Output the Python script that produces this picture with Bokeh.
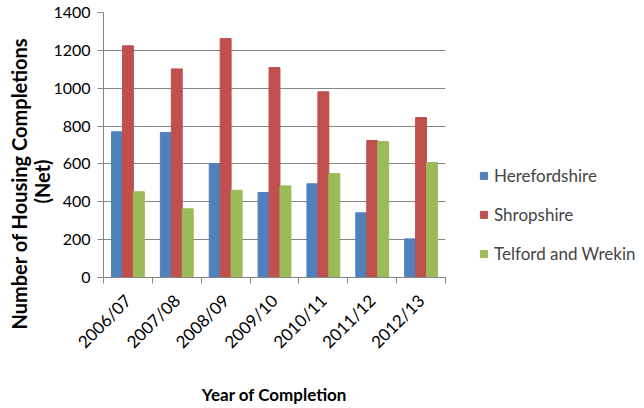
from math import pi
from bokeh.plotting import figure
from bokeh.models import Range1d, FixedTicker, Legend, LegendItem, Title
from bokeh.embed import file_html
from bokeh.resources import INLINE

years = ["2006/07", "2007/08", "2008/09", "2009/10", "2010/11", "2011/12", "2012/13"]
herefordshire = [770, 766, 602, 449, 495, 342, 204]
shropshire = [1224, 1102, 1262, 1109, 981, 724, 845]
telford = [453, 363, 461, 484, 549, 718, 607]
series_names = ["Herefordshire", "Shropshire", "Telford and Wrekin"]
colors = ["#4F81BD", "#C0504D", "#9BBB59"]
y_ticks = [0, 200, 400, 600, 800, 1000, 1200, 1400]
y_title_lines = ["Number of Housing Completions", "(Net)"]
x_title = "Year of Completion"

centers = [i + 0.5 for i in range(len(years))]
bar_w = 0.224
offsets = [-bar_w, 0.0, bar_w]

p = figure(frame_width=342, frame_height=265,
           x_range=Range1d(0, len(years)), y_range=Range1d(0, 1400),
           output_backend="svg", toolbar_location=None,
           min_border_left=103, min_border_right=183,
           min_border_top=12, min_border_bottom=115)
p.outline_line_color = None
p.background_fill_color = "white"
p.border_fill_color = "white"

renderers = []
for vals, off, col in zip([herefordshire, shropshire, telford], offsets, colors):
    r = p.vbar(x=[c + off for c in centers], top=vals, width=bar_w,
               fill_color=col, line_color=col)
    renderers.append(r)

p.xgrid.visible = False
p.ygrid.grid_line_color = "#868686"
p.ygrid.ticker = FixedTicker(ticks=y_ticks)

ya = p.yaxis[0]
ya.ticker = FixedTicker(ticks=y_ticks)
ya.axis_line_color = "#868686"
ya.major_tick_line_color = "#868686"
ya.major_tick_out = 6
ya.major_tick_in = 0
ya.minor_tick_line_color = None
ya.major_label_text_font = "Lato"
ya.major_label_text_font_size = "16px"
ya.major_label_text_color = "black"
ya.major_label_standoff = 7

# two-line y title, placed as left-side titles
t_net = Title(text=y_title_lines[1], align="left", offset=74, standoff=-6,
              text_font="Lato", text_font_style="bold", text_font_size="20px",
              text_color="black", text_line_height=0.75)
t_main = Title(text=y_title_lines[0], align="left", offset=-52, standoff=0,
               text_font="Lato", text_font_style="bold", text_font_size="20px",
               text_color="black", text_line_height=0.75)
p.add_layout(t_net, "left")
p.add_layout(t_main, "left")

xa = p.xaxis[0]
xa.ticker = FixedTicker(ticks=centers, minor_ticks=list(range(len(years) + 1)))
xa.major_label_overrides = {c: y for c, y in zip(centers, years)}
xa.axis_line_color = "#868686"
xa.major_tick_line_color = None
xa.minor_tick_line_color = "#868686"
xa.minor_tick_out = 6
xa.minor_tick_in = 0
xa.major_label_orientation = pi / 4
xa.major_label_text_font = "Lato"
xa.major_label_text_font_size = "17px"
xa.major_label_text_color = "black"
xa.major_label_standoff = 14
xa.axis_label = x_title
xa.axis_label_text_font = "Lato"
xa.axis_label_text_font_style = "bold"
xa.axis_label_text_font_size = "17px"
xa.axis_label_text_color = "black"
xa.axis_label_standoff = 21

legend = Legend(
    items=[LegendItem(label=n, renderers=[r]) for n, r in zip(series_names, renderers)],
    location=(34, 4), glyph_width=9, glyph_height=9, label_height=39,
    spacing=0, padding=10, margin=0, border_line_color=None,
    background_fill_alpha=0, label_text_font="Lato", label_text_font_size="17px",
    label_standoff=6)
p.add_layout(legend, "right")

open("out.html", "w").write(file_html(p, INLINE))
